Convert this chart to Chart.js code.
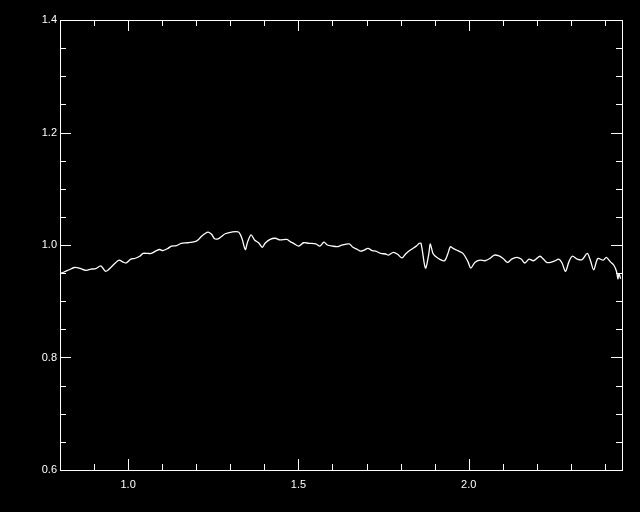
<!DOCTYPE html>
<html>
<head>
<meta charset="utf-8">
<script src="https://cdn.jsdelivr.net/npm/chart.js@4.4.1/dist/chart.umd.min.js"></script>
<style>
  html, body { margin: 0; padding: 0; background: #000; }
  #wrap { width: 640px; height: 512px; position: relative; }
</style>
</head>
<body>
<div id="wrap"><canvas id="spectrum"></canvas></div>
<script>
// wavelength (x) and normalised flux (y)
var wavelength = [0.800, 0.812, 0.827, 0.842, 0.856, 0.876, 0.891, 0.905, 0.920, 0.934,
    0.949, 0.964, 0.974, 0.984, 0.994, 1.008, 1.019, 1.034, 1.044, 1.058,
    1.068, 1.083, 1.093, 1.102, 1.117, 1.127, 1.142, 1.156, 1.176, 1.196,
    1.205, 1.215, 1.225, 1.235, 1.245, 1.254, 1.264, 1.274, 1.285, 1.304,
    1.324, 1.334, 1.344, 1.351, 1.361, 1.371, 1.383, 1.394, 1.402, 1.417,
    1.432, 1.446, 1.466, 1.476, 1.486, 1.501, 1.515, 1.531, 1.551, 1.563,
    1.575, 1.585, 1.600, 1.614, 1.624, 1.649, 1.658, 1.673, 1.683, 1.693,
    1.704, 1.717, 1.727, 1.742, 1.756, 1.764, 1.779, 1.792, 1.804, 1.816,
    1.831, 1.846, 1.855, 1.860, 1.873, 1.883, 1.887, 1.895, 1.904, 1.914,
    1.929, 1.939, 1.946, 1.954, 1.968, 1.983, 1.998, 2.006, 2.018, 2.033,
    2.048, 2.062, 2.075, 2.087, 2.101, 2.114, 2.126, 2.141, 2.154, 2.165,
    2.177, 2.190, 2.209, 2.219, 2.229, 2.240, 2.254, 2.264, 2.274, 2.284,
    2.294, 2.304, 2.318, 2.333, 2.348, 2.357, 2.367, 2.379, 2.395, 2.404,
    2.416, 2.426, 2.434, 2.438, 2.441, 2.446];
var flux = [0.949, 0.952, 0.956, 0.960, 0.959, 0.955, 0.957, 0.958, 0.963, 0.953,
    0.960, 0.969, 0.973, 0.970, 0.968, 0.975, 0.976, 0.980, 0.985, 0.985,
    0.985, 0.990, 0.992, 0.990, 0.994, 0.998, 0.999, 1.003, 1.004, 1.006,
    1.009, 1.015, 1.020, 1.023, 1.019, 1.011, 1.011, 1.015, 1.020, 1.023,
    1.023, 1.012, 0.992, 1.006, 1.018, 1.009, 1.004, 0.996, 1.003, 1.010,
    1.012, 1.009, 1.010, 1.006, 1.003, 0.998, 1.004, 1.003, 1.002, 0.998,
    1.005, 1.000, 0.998, 0.997, 0.999, 1.002, 0.997, 0.992, 0.989, 0.991,
    0.994, 0.990, 0.989, 0.985, 0.984, 0.982, 0.987, 0.983, 0.977, 0.985,
    0.992, 0.998, 1.003, 1.003, 0.959, 0.985, 1.002, 0.985, 0.979, 0.975,
    0.972, 0.985, 0.997, 0.994, 0.990, 0.985, 0.970, 0.959, 0.969, 0.973,
    0.972, 0.976, 0.982, 0.981, 0.976, 0.969, 0.975, 0.978, 0.975, 0.968,
    0.975, 0.972, 0.980, 0.975, 0.969, 0.969, 0.972, 0.975, 0.968, 0.953,
    0.970, 0.980, 0.975, 0.974, 0.985, 0.973, 0.956, 0.976, 0.973, 0.978,
    0.970, 0.964, 0.953, 0.940, 0.949, 0.940];

var xMajorTicks = [1.0, 1.5, 2.0];
var xMinorTicks = [0.9, 1.1, 1.2, 1.3, 1.4, 1.6, 1.7, 1.8, 1.9, 2.1, 2.2, 2.3, 2.4];
var yMajorTicks = [0.6, 0.8, 1.0, 1.2, 1.4];
var yMinorTicks = [0.65, 0.7, 0.75, 0.85, 0.9, 0.95, 1.05, 1.1, 1.15, 1.25, 1.3, 1.35];

var points = wavelength.map(function (w, i) { return { x: w, y: flux[i] }; });

// IDL-style frame: box on all four sides, ticks pointing inward
var framePlugin = {
    id: 'frame',
    afterDatasetsDraw: function (chart) {
        var ctx = chart.ctx, a = chart.chartArea;
        var xs = chart.scales.x, ys = chart.scales.y;
        ctx.save();
        ctx.strokeStyle = '#fff';
        ctx.lineWidth = 1;
        ctx.strokeRect(Math.round(a.left) + 0.5, Math.round(a.top) + 0.5,
            Math.round(a.right - a.left), Math.round(a.bottom - a.top));
        ctx.beginPath();
        function xTick(v, len) {
            var px = Math.round(xs.getPixelForValue(v)) + 0.5;
            ctx.moveTo(px, a.bottom); ctx.lineTo(px, a.bottom - len);
            ctx.moveTo(px, a.top); ctx.lineTo(px, a.top + len);
        }
        function yTick(v, len) {
            var py = Math.round(ys.getPixelForValue(v)) + 0.5;
            ctx.moveTo(a.left, py); ctx.lineTo(a.left + len, py);
            ctx.moveTo(a.right, py); ctx.lineTo(a.right - len, py);
        }
        xMajorTicks.forEach(function (v) { xTick(v, 11); });
        xMinorTicks.forEach(function (v) { xTick(v, 6); });
        yMajorTicks.forEach(function (v) { yTick(v, 11); });
        yMinorTicks.forEach(function (v) { yTick(v, 6); });
        ctx.stroke();
        ctx.restore();
    }
};

var labelFont = { family: 'Liberation Sans', size: 11 };

new Chart(document.getElementById('spectrum').getContext('2d'), {
    type: 'line',
    data: {
        datasets: [{
            data: points,
            borderColor: '#fff',
            borderWidth: 1.3,
            pointRadius: 0,
            tension: 0.3,
            fill: false
        }]
    },
    options: {
        responsive: true,
        maintainAspectRatio: false,
        animation: false,
        layout: { padding: { top: 20, right: 18, left: 0, bottom: 0 } },
        plugins: { legend: { display: false }, tooltip: { enabled: false } },
        scales: {
            x: {
                type: 'linear',
                min: 0.8,
                max: 2.45,
                afterBuildTicks: function (s) { s.ticks = xMajorTicks.map(function (v) { return { value: v }; }); },
                afterFit: function (s) { s.height = 42; },
                grid: { display: false, drawTicks: false },
                border: { display: false },
                ticks: {
                    color: '#fff', font: labelFont, padding: 8, maxRotation: 0, autoSkip: false,
                    callback: function (v) { return Number(v).toFixed(1); }
                }
            },
            y: {
                min: 0.6,
                max: 1.4,
                afterBuildTicks: function (s) { s.ticks = yMajorTicks.map(function (v) { return { value: v }; }); },
                afterFit: function (s) { s.width = 60; },
                grid: { display: false, drawTicks: false },
                border: { display: false },
                ticks: {
                    color: '#fff', font: labelFont, padding: 3, autoSkip: false,
                    callback: function (v) { return Number(v).toFixed(1); }
                }
            }
        }
    },
    plugins: [framePlugin]
});
</script>
</body>
</html>
